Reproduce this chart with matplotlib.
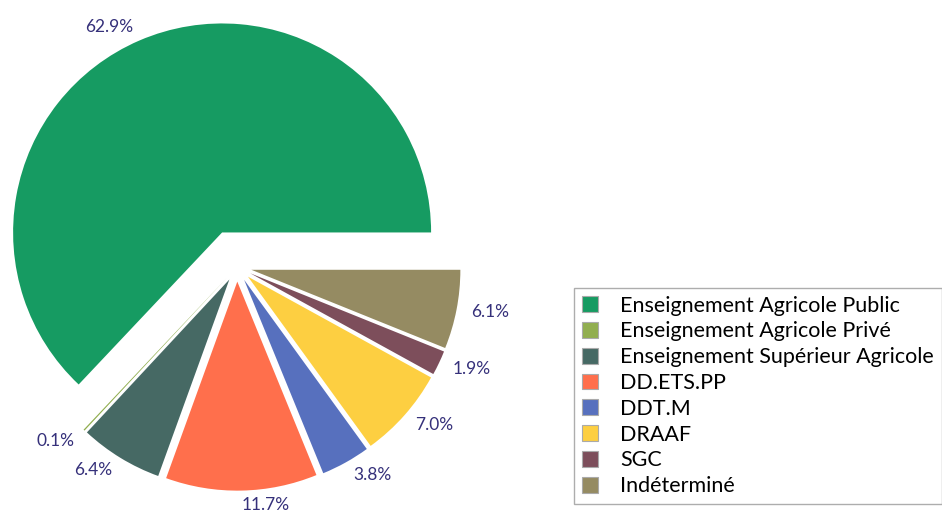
import matplotlib.pyplot as plt

# Répartition par structure (%)
categories = ['Enseignement Agricole Public', 'Enseignement Agricole Privé',
              'Enseignement Supérieur Agricole', 'DD.ETS.PP', 'DDT.M',
              'DRAAF', 'SGC', 'Indéterminé']
shares = [62.9, 0.1, 6.4, 11.7, 3.8, 7.0, 1.9, 6.1]
colors = ['#169B62', '#91AE4F', '#466964', '#FF6F4C', '#5770BE',
          '#FDCF41', '#7D4E5B', '#958B62']
explode = [0.18, 0.07, 0.07, 0.07, 0.07, 0.07, 0.07, 0.07]

plt.rcParams['font.family'] = ['Lato', 'DejaVu Sans']

W, H = 942, 518
fig = plt.figure(figsize=(W / 100, H / 100), dpi=100)
ax = fig.add_axes([0, 0, 1, 1])

pct_labels = [f'{v:.1f}%' for v in shares]
wedges, texts = ax.pie(shares, labels=pct_labels, colors=colors, explode=explode,
                       startangle=0, counterclock=True, labeldistance=1.07,
                       wedgeprops=dict(linewidth=0),
                       textprops=dict(color='#35307A', fontsize=12.5))

# pie centre around (237, 267) px from top-left, radius ~209 px
scale = 209.0
cx, cy = 237, 267
ax.set_xlim(-cx / scale, (W - cx) / scale)
ax.set_ylim(-(H - cy) / scale, cy / scale)
ax.set_aspect('equal')
ax.axis('off')

leg = fig.legend(wedges, categories, loc='upper left',
                 bbox_to_anchor=(574 / W, 1 - 288 / H),
                 prop=dict(size=15.5), frameon=True, fancybox=False,
                 edgecolor='#999999', handlelength=0.75, handleheight=0.75,
                 handletextpad=1.05, labelspacing=0.27, borderpad=0.35,
                 borderaxespad=0)
leg.get_frame().set_linewidth(1.0)
for h in leg.legend_handles:
    h.set_edgecolor('#aaaaaa')
    h.set_linewidth(0.8)

fig.savefig('out.png', dpi=100)
